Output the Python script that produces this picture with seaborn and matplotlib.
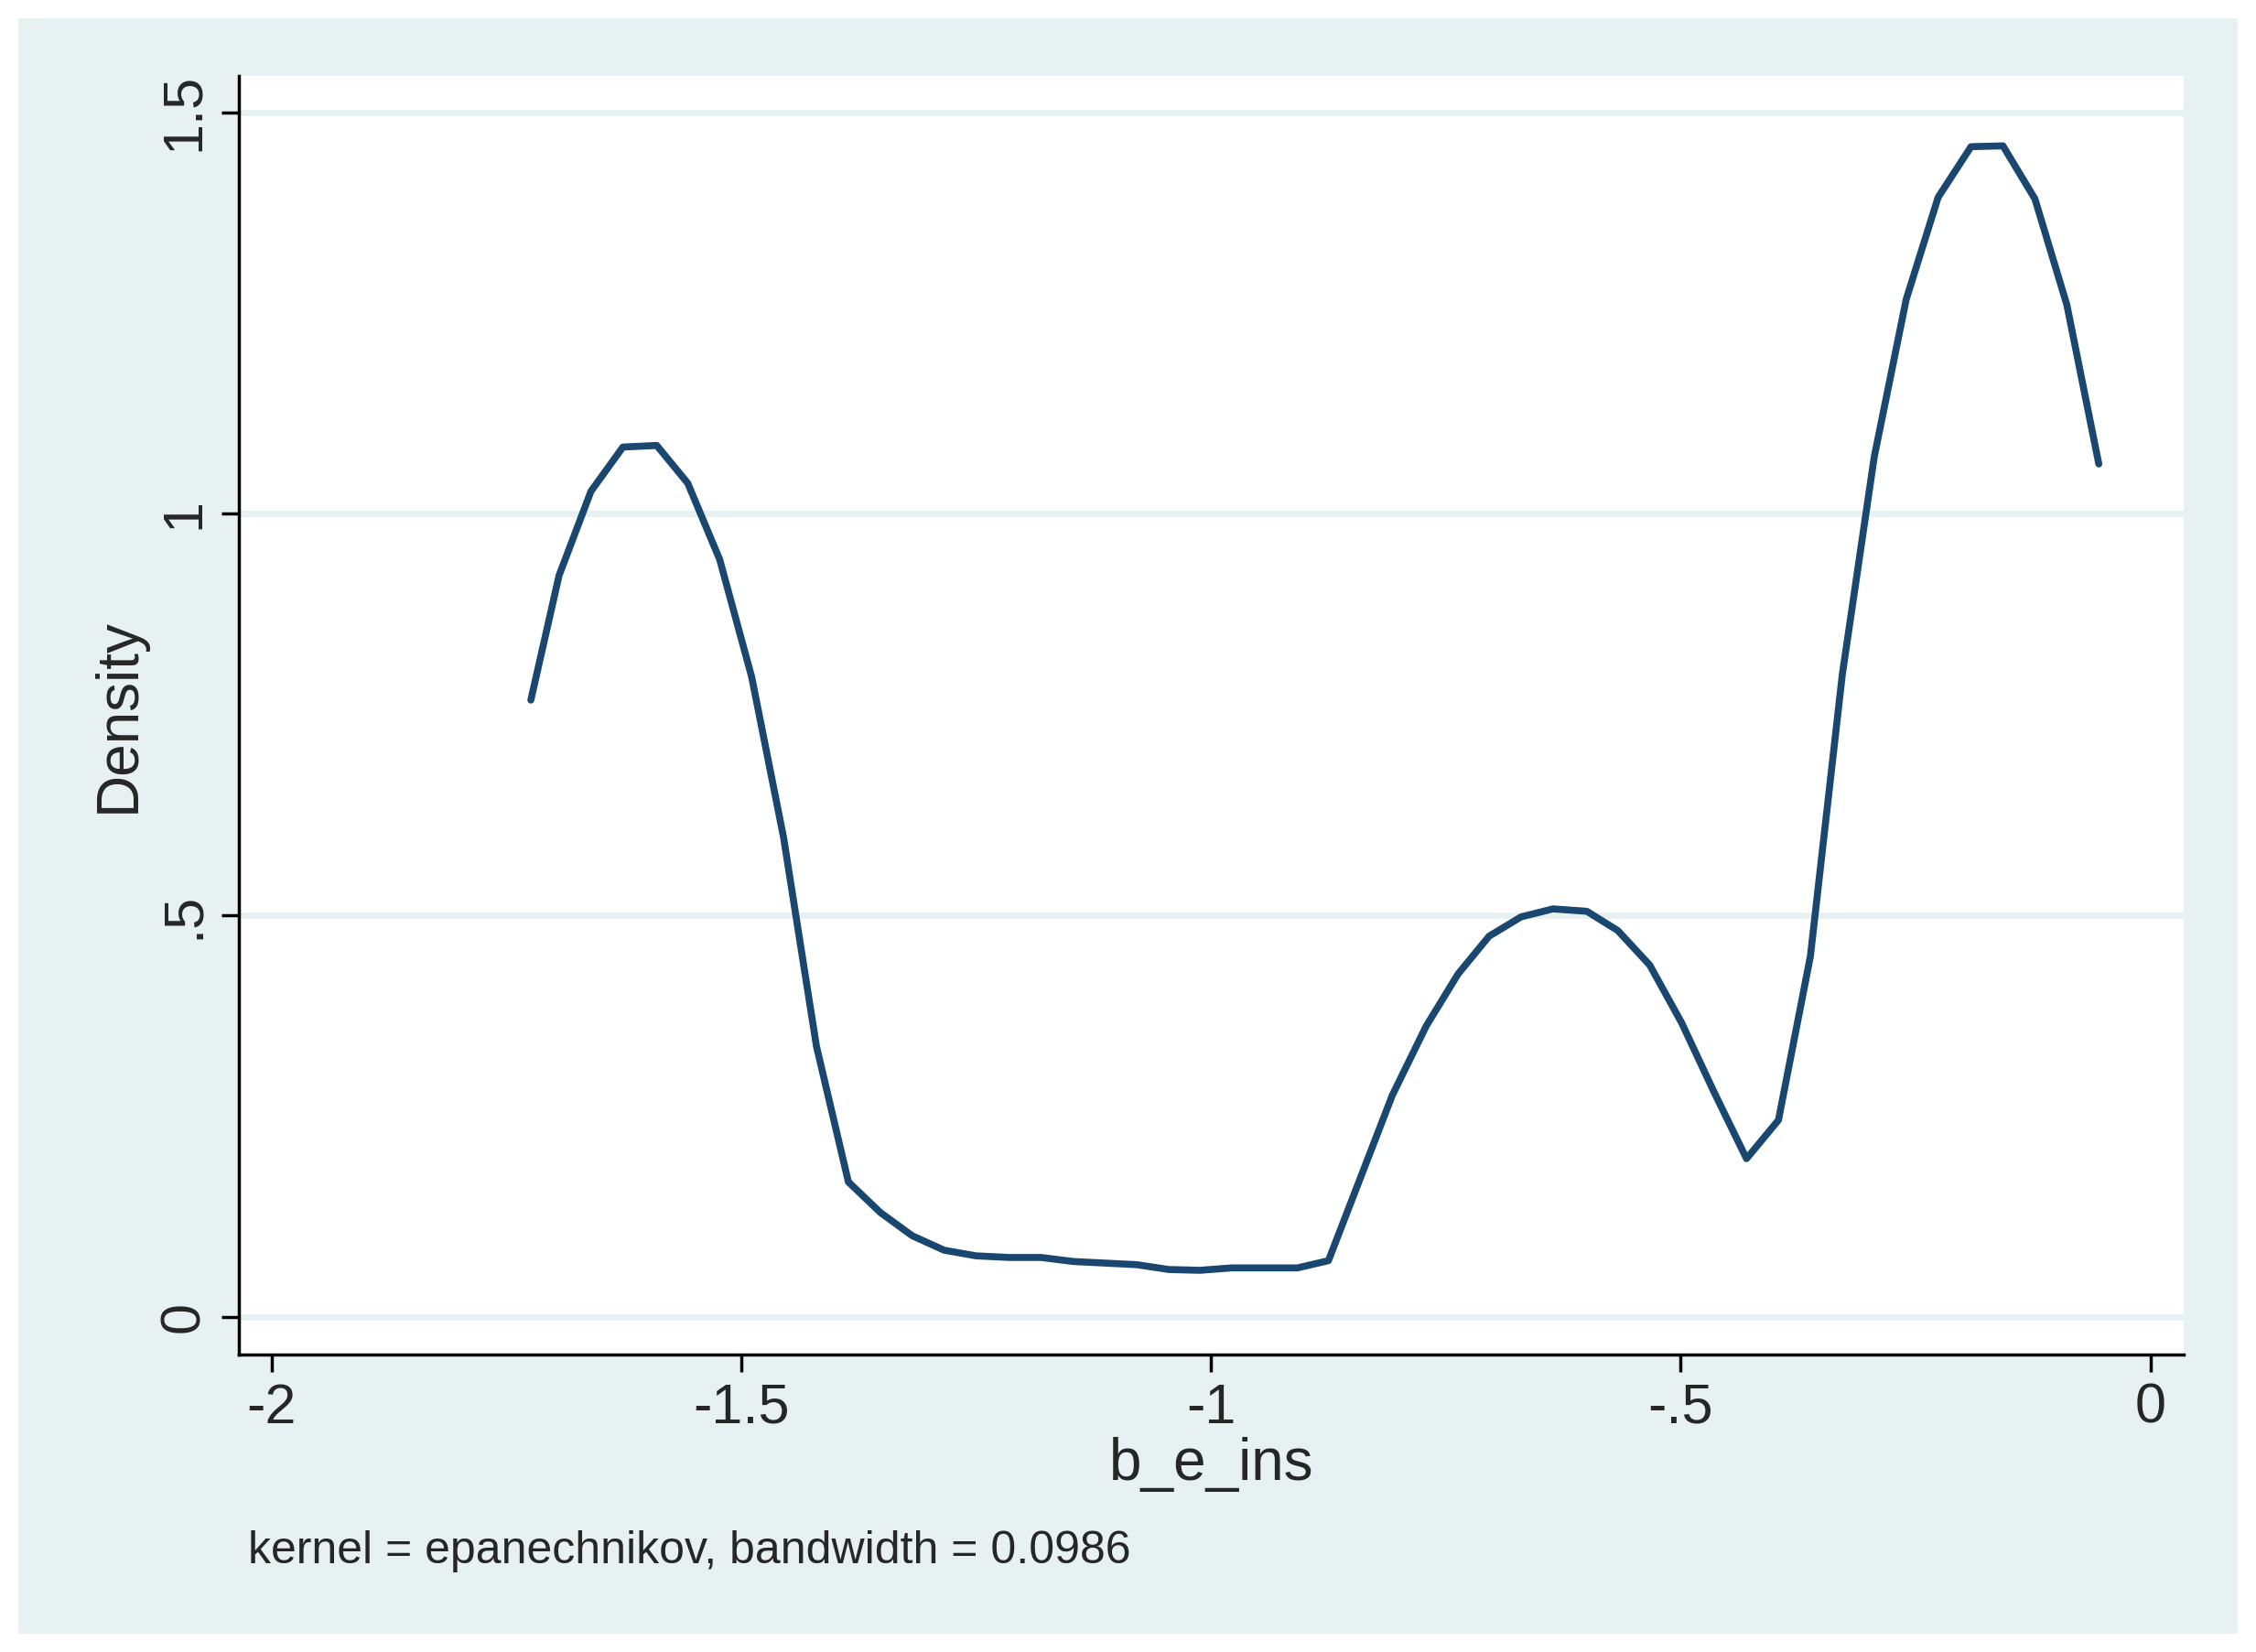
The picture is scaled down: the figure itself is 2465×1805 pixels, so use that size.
import numpy as np
import pandas as pd
import matplotlib
matplotlib.use("Agg")
import matplotlib.pyplot as plt
import seaborn as sns
from matplotlib.patches import Rectangle

# Density estimate points
b_e_ins = [-1.724, -1.694, -1.660, -1.626, -1.590, -1.557, -1.523, -1.489, -1.455, -1.420,
           -1.386, -1.352, -1.318, -1.284, -1.250, -1.215, -1.181, -1.147, -1.113, -1.079,
           -1.045, -1.012, -0.978, -0.942, -0.908, -0.875, -0.841, -0.807, -0.771, -0.737,
           -0.704, -0.670, -0.636, -0.600, -0.567, -0.533, -0.499, -0.465, -0.430, -0.396,
           -0.362, -0.328, -0.294, -0.260, -0.226, -0.191, -0.157, -0.123, -0.089, -0.055]
density = [0.768, 0.923, 1.028, 1.083, 1.085, 1.038, 0.943, 0.797, 0.597, 0.337,
           0.168, 0.130, 0.101, 0.083, 0.076, 0.074, 0.074, 0.069, 0.067, 0.065,
           0.059, 0.058, 0.061, 0.061, 0.061, 0.070, 0.173, 0.276, 0.362, 0.427,
           0.474, 0.498, 0.508, 0.505, 0.481, 0.438, 0.366, 0.281, 0.197, 0.245,
           0.449, 0.800, 1.071, 1.267, 1.394, 1.457, 1.458, 1.392, 1.260, 1.062]
x_ticks = [-2, -1.5, -1, -0.5, 0]
x_labels = ["-2", "-1.5", "-1", "-.5", "0"]
y_ticks = [0, 0.5, 1, 1.5]
y_labels = ["0", ".5", "1", "1.5"]

df = pd.DataFrame({"b_e_ins": b_e_ins, "Density": density})

sns.set_style("ticks")
plt.rcParams['font.family'] = ['Liberation Sans', 'DejaVu Sans']

fig = plt.figure(figsize=(24.65, 18.05), dpi=100)
fig.patch.set_facecolor("white")
fig.patches.append(Rectangle((0.008, 0.011), 0.984, 0.978, transform=fig.transFigure,
                             facecolor="#e7f1f2", edgecolor="none", zorder=-10))

ax = fig.add_axes([0.1058, 0.180, 0.862, 0.774])
ax.set_facecolor("white")
for y in y_ticks:
    ax.axhline(y, color="#e7f1f2", lw=5, zorder=0)
sns.lineplot(data=df, x="b_e_ins", y="Density", ax=ax, color="#1a476f", lw=5.5)

ax.set_xlim(-2.035, 0.035)
ax.set_ylim(-0.047, 1.545)
ax.set_xticks(x_ticks, x_labels)
ax.set_yticks(y_ticks, y_labels)
ax.tick_params(axis="both", labelsize=44, length=14, width=2.5, color="black",
               pad=8, bottom=True, left=True, direction="out")
plt.setp(ax.get_yticklabels(), rotation=90, va="center")
for s in ["top", "right"]:
    ax.spines[s].set_visible(False)
for s in ["left", "bottom"]:
    ax.spines[s].set_color("black")
    ax.spines[s].set_linewidth(2.5)
ax.set_xlabel("b_e_ins", fontsize=46, labelpad=2)
ax.set_ylabel("Density", fontsize=46, labelpad=10)

fig.text(0.110, 0.054, "kernel = epanechnikov, bandwidth = 0.0986", fontsize=36)

fig.savefig("out.png", dpi=100)
